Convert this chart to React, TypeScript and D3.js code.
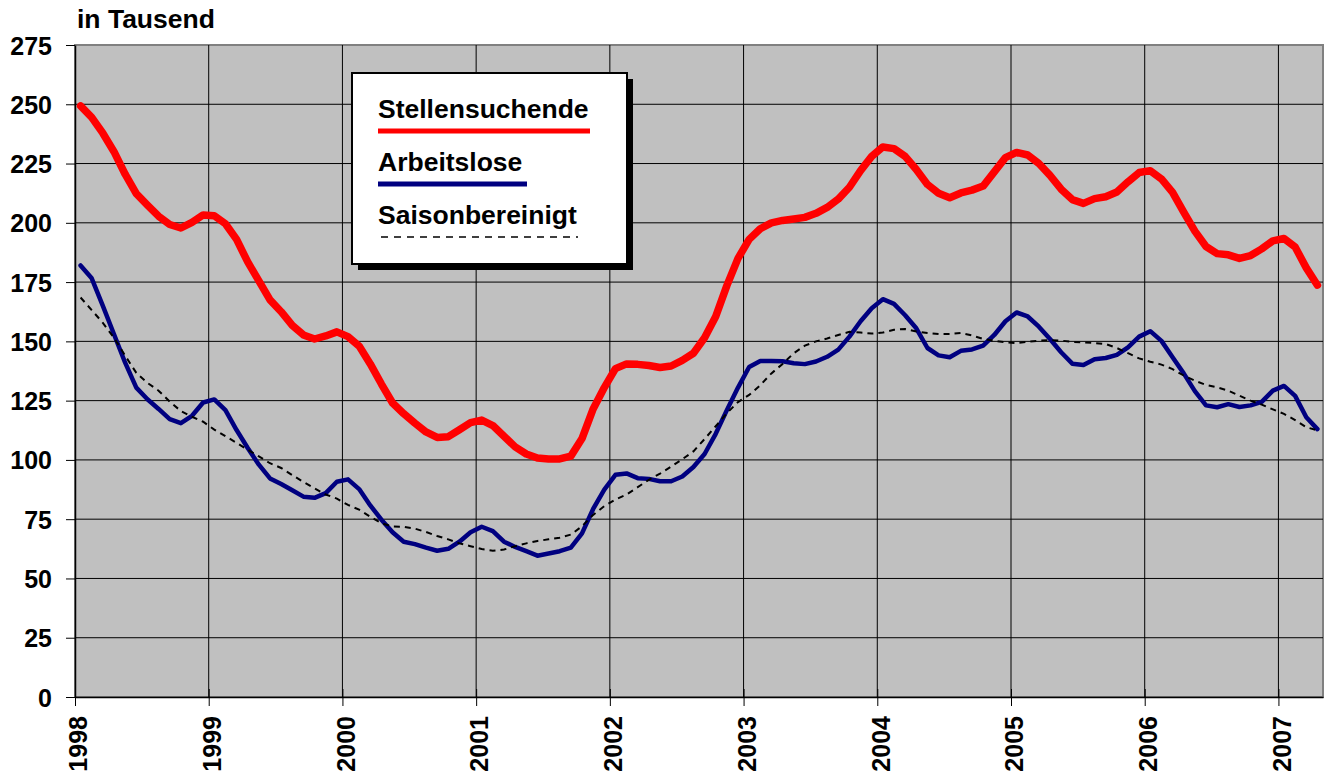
import React, { useRef, useEffect } from 'react';
import * as d3 from 'd3';

// Monatswerte Jan 1998 – Apr 2007 (in Tausend)
const stellensuchende = [
  249.3, 244.5, 237.8, 230, 220.5, 212.3, 207.5, 202.8, 199.3, 197.8, 200.2, 203.3,
  203, 199.6, 193, 183.5, 175.5, 167.5, 162.5, 156.7, 152.7, 151, 152.3, 154,
  152, 148, 140.5, 132, 124, 119.5, 115.5, 111.8, 109.5, 109.8, 112.7, 115.7,
  116.8, 114.5, 110, 105.5, 102.5, 100.8, 100.4, 100.4, 101.6, 109, 121.5, 130.5,
  138.5, 140.5, 140.3, 139.8, 139, 139.6, 142, 145, 151.5, 160.5, 173.5, 185,
  193, 197.5, 200, 201, 201.6, 202.3, 204, 206.5, 210, 215, 222, 228,
  232, 231.3, 228, 222.5, 216.2, 212.5, 210.6, 212.6, 213.8, 215.5, 221.5, 227.5,
  229.7, 228.6, 225, 220, 214.2, 209.8, 208.2, 210.2, 211, 213, 217.3, 221.2,
  222, 218.5, 212.8, 204.5, 196.5, 190, 187, 186.5, 185, 186.2, 189, 192.4,
  193.4, 189.8, 181, 173.7,
];

const arbeitslose = [
  182, 176.6, 165, 153, 141, 130.5, 125.6, 121.5, 117.2, 115.5, 118.6, 124.2,
  125.5, 121, 112.6, 105, 98, 92.2, 89.8, 87.2, 84.5, 84, 86, 90.8,
  91.8, 87.7, 80.8, 74.8, 69.5, 65.5, 64.5, 63, 61.7, 62.5, 65.5, 69.5,
  71.8, 70, 65.5, 63.3, 61.5, 59.6, 60.5, 61.5, 63, 69, 79.3, 87.5,
  93.7, 94.3, 92.3, 92, 91, 91, 93, 97, 102.5, 111, 121, 130.5,
  139.2, 141.7, 141.7, 141.6, 140.8, 140.4, 141.5, 143.5, 146.5, 152, 158.5, 164,
  167.8, 165.8, 161, 155.5, 147.2, 144.1, 143.3, 146, 146.6, 148.2, 152.7, 158.5,
  162.2, 160.5, 156.2, 151, 145.4, 140.6, 140, 142.5, 143, 144.3, 147.5, 152,
  154.3, 150.2, 143.3, 136.5, 129, 123, 122.2, 123.5, 122.3, 123, 124.5, 129.2,
  131.2, 127, 118, 113,
];

const saisonbereinigt = [
  168.5, 163.2, 157.8, 151.5, 144, 136.7, 132.5, 129.2, 124.6, 120.6, 118.2, 116.1,
  112.8, 110, 107.2, 104.3, 101.5, 98.6, 96.6, 93.6, 90.7, 88, 85.4, 83.7,
  81, 79, 76, 73.3, 71.9, 71.8, 71, 69.6, 67.9, 66.5, 64.8, 63.6,
  62.4, 61.7, 62.2, 63.6, 64.8, 65.8, 66.5, 67.2, 68.5, 72, 76.8, 80.5,
  83.3, 85.4, 88.5, 91.6, 94.2, 97.2, 100.3, 103.6, 108.8, 114.2, 119.7, 124.4,
  127.4, 131.5, 136.5, 140.5, 145, 148.2, 150, 151.2, 152.7, 154, 153.7, 153.3,
  153.7, 154.9, 155.2, 154.2, 153.5, 153.1, 153.1, 153.5, 152.5, 151, 150.3, 149.6,
  149.3, 149.8, 150.3, 150.5, 150.3, 149.8, 149.6, 149.3, 148.9, 147.2, 145, 142.8,
  141.4, 140.2, 138.3, 135.6, 133.4, 131.6, 130.6, 129.2, 127.1, 125, 123.3, 121.3,
  119.4, 116.8, 113.8, 112.5,
];

const years = ['1998', '1999', '2000', '2001', '2002', '2003', '2004', '2005', '2006', '2007'];
const yTicks = [0, 25, 50, 75, 100, 125, 150, 175, 200, 225, 250, 275];

const legendItems = [
  { label: 'Stellensuchende', color: '#ff0000', width: 5, dash: null, len: 212 },
  { label: 'Arbeitslose', color: '#000080', width: 5, dash: null, len: 149 },
  { label: 'Saisonbereinigt', color: '#000000', width: 1.6, dash: '7,6', len: 200 },
];

const FONT = '"Liberation Sans", Arial, sans-serif';

const Chart = ({ width = 1330, height = 780 }) => {
  const svgRef = useRef(null);

  useEffect(() => {
    const svg = d3.select(svgRef.current)
      .attr('width', width)
      .attr('height', height);

    svg.selectAll('*').remove();

    const left = 75, top = 45, right = 1323, bottom = 697;

    // Monate als Index; Punkte liegen jeweils in der Monatsmitte
    const x = d3.scaleLinear().domain([0, 112]).range([left, right]);
    const y = d3.scaleLinear().domain([0, 275]).range([bottom, top]);

    // Plotfläche
    svg.append('rect')
      .attr('x', left).attr('y', top)
      .attr('width', right - left).attr('height', bottom - top)
      .attr('fill', '#c0c0c0')
      .attr('stroke', '#808080')
      .attr('stroke-width', 2);

    // Gitternetz
    const grid = svg.append('g');
    grid.selectAll('.hgrid')
      .data(yTicks.slice(1, -1))
      .enter().append('line')
      .attr('x1', left).attr('x2', right)
      .attr('y1', d => y(d)).attr('y2', d => y(d))
      .attr('stroke', '#000').attr('stroke-width', 1);
    grid.selectAll('.vgrid')
      .data(years.slice(1).map((_, i) => (i + 1) * 12))
      .enter().append('line')
      .attr('x1', d => x(d)).attr('x2', d => x(d))
      .attr('y1', top).attr('y2', bottom)
      .attr('stroke', '#000').attr('stroke-width', 1);

    // Y-Achse
    const yAxis = d3.axisLeft(y)
      .tickValues(yTicks)
      .tickSize(9)
      .tickSizeOuter(0)
      .tickPadding(14);
    const gy = svg.append('g')
      .attr('transform', `translate(${left}, 0)`)
      .call(yAxis);
    gy.select('.domain').attr('stroke', '#000').attr('stroke-width', 1.5);
    gy.selectAll('.tick line').attr('stroke', '#000');
    gy.selectAll('text')
      .attr('font-family', FONT)
      .attr('font-size', 25)
      .attr('font-weight', 'bold')
      .attr('fill', '#000')
      .attr('dy', '0.36em');

    // X-Achse
    const xAxis = d3.axisBottom(x)
      .tickValues(years.map((_, i) => i * 12))
      .tickFormat((d) => years[d / 12])
      .tickSize(9)
      .tickSizeOuter(0);
    const gx = svg.append('g')
      .attr('transform', `translate(0, ${bottom})`)
      .call(xAxis);
    gx.select('.domain').attr('stroke', '#000').attr('stroke-width', 1.5);
    gx.selectAll('.tick line').attr('stroke', '#000').attr('y1', -8);
    gx.selectAll('text')
      .attr('font-family', FONT)
      .attr('font-size', 25)
      .attr('font-weight', 'bold')
      .attr('fill', '#000')
      .attr('transform', 'rotate(-90)')
      .attr('text-anchor', 'end')
      .attr('x', -19)
      .attr('y', 3)
      .attr('dy', '0.35em');

    // Linien
    const line = d3.line()
      .x((d, i) => x(i + 0.5))
      .y(d => y(d));

    svg.append('path')
      .datum(stellensuchende)
      .attr('d', line)
      .attr('fill', 'none')
      .attr('stroke', '#ff0000')
      .attr('stroke-width', 7.5)
      .attr('stroke-linejoin', 'round')
      .attr('stroke-linecap', 'round');

    svg.append('path')
      .datum(arbeitslose)
      .attr('d', line)
      .attr('fill', 'none')
      .attr('stroke', '#000080')
      .attr('stroke-width', 4.5)
      .attr('stroke-linejoin', 'round')
      .attr('stroke-linecap', 'round');

    svg.append('path')
      .datum(saisonbereinigt)
      .attr('d', line)
      .attr('fill', 'none')
      .attr('stroke', '#000')
      .attr('stroke-width', 2)
      .attr('stroke-dasharray', '6,5');

    // Titel
    svg.append('text')
      .attr('x', 77).attr('y', 28)
      .attr('font-family', FONT)
      .attr('font-size', 26.5)
      .attr('font-weight', 'bold')
      .text('in Tausend');

    // Legende
    const lg = svg.append('g').attr('transform', 'translate(352, 73)');
    lg.append('rect')
      .attr('x', 6).attr('y', 6)
      .attr('width', 275).attr('height', 191)
      .attr('fill', '#000');
    lg.append('rect')
      .attr('width', 275).attr('height', 191)
      .attr('fill', '#fff')
      .attr('stroke', '#000')
      .attr('stroke-width', 2);

    legendItems.forEach((item, i) => {
      const baseY = 45 + i * 53;
      lg.append('text')
        .attr('x', 26).attr('y', baseY)
        .attr('font-family', FONT)
        .attr('font-size', 26.5)
        .attr('font-weight', 'bold')
        .text(item.label);
      lg.append('line')
        .attr('x1', item.dash ? 29 : 26).attr('x2', 26 + item.len)
        .attr('y1', baseY + 13).attr('y2', baseY + 13)
        .attr('stroke', item.color)
        .attr('stroke-width', item.width)
        .attr('stroke-dasharray', item.dash);
    });
  }, [width, height]);

  return (
    <svg ref={svgRef} style={{ position: 'absolute', left: 0, top: 0 }}></svg>
  );
};

export default function App() {
  return <Chart />;
}
